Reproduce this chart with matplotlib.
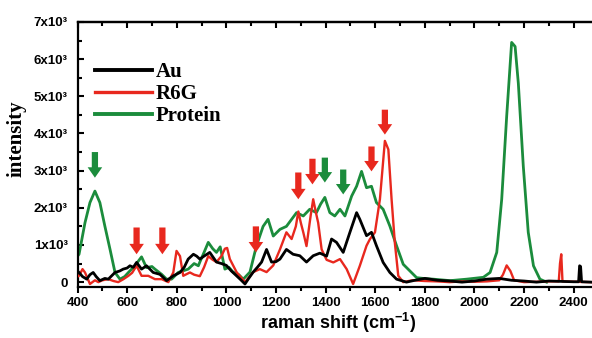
import matplotlib
matplotlib.use("Agg")
import matplotlib.pyplot as plt
from matplotlib.ticker import MultipleLocator, FixedLocator
from matplotlib.lines import Line2D

# ---------------- data ----------------
protein_x = [400, 406, 430, 450, 470, 490, 510, 531, 551, 571, 590, 605, 631, 658, 678, 700, 712, 739, 759, 779,
             806, 846, 870, 887, 893, 910, 927, 945, 960, 975, 994, 1010, 1027, 1050, 1068, 1095, 1121, 1148, 1168,
             1189, 1216, 1242, 1263, 1283, 1310, 1336, 1363, 1380, 1397, 1417, 1437, 1458, 1478, 1505, 1525, 1545,
             1565, 1585, 1605, 1632, 1659, 1686, 1713, 1740, 1767, 1794, 1834, 1902, 1969, 2036, 2063, 2090, 2110,
             2130, 2150, 2164, 2177, 2197, 2217, 2238, 2264, 2291]
protein_y = [700, 750, 1600, 2140, 2450, 2140, 1510, 880, 260, 80, 150, 260, 440, 680, 390, 420, 350, 210, 80, 80,
             260, 350, 500, 440, 540, 800, 1070, 900, 800, 950, 350, 400, 270, 200, 80, 270, 970, 1500, 1690,
             1240, 1420, 1500, 1690, 1870, 1780, 1960, 1870, 2100, 2280, 1870, 1780, 1960, 1780, 2315, 2580, 2980,
             2540, 2580, 2140, 1960, 1510, 980, 480, 300, 120, 100, 80, 40, 80, 130, 260, 800, 2230,
             4460, 6450, 6340, 5350, 3120, 1340, 440, 80, 0]

r6g_x = [400, 406, 420, 430, 450, 470, 484, 500, 524, 545, 564, 585, 605, 620, 638, 658, 685, 712, 739, 766, 786,
         799, 813, 826, 853, 870, 887, 893, 910, 927, 945, 960, 980, 994, 1003, 1014, 1041, 1075, 1108, 1135, 1162,
         1189, 1216, 1242, 1263, 1280, 1290, 1300, 1310, 1323, 1340, 1350, 1360, 1370, 1384, 1404, 1431, 1458,
         1485, 1511, 1538, 1565, 1579, 1599, 1619, 1639, 1653, 1666, 1679, 1693, 1713, 1750, 1800, 1850, 1900,
         1950, 2000, 2050, 2100, 2115, 2130, 2145, 2160, 2200, 2300, 2340, 2345, 2350, 2355, 2400, 2470]
r6g_y = [150, 170, 350, 260, -50, 50, 0, 50, 80, 30, 0, 80, 170, 250, 440, 170, 170, 80, 80, 0, 260,
         840, 700, 170, 260, 200, 170, 160, 400, 700, 600, 540, 700, 900, 920, 620, 270, 0, 270, 350, 270,
         450, 880, 1340, 1160, 1500, 1900, 1600, 1340, 970, 1800, 2230, 1900, 1600, 880, 600, 530, 620,
         350, -50, 440, 980, 1160, 1340, 2230, 3800, 3570, 2230, 1070, 170, 0, 50, 30, 20, 0,
         20, 10, 20, 50, 200, 450, 300, 50, 0, 20, 20, 500, 750, 20, 10, 0]

au_x = [400, 406, 420, 437, 450, 463, 475, 490, 510, 524, 551, 570, 584, 600, 611, 625, 638, 658, 678, 705, 732,
        759, 786, 813, 830, 846, 867, 880, 893, 910, 933, 960, 980, 1000, 1020, 1041, 1060, 1075, 1090, 1108,
        1125, 1142, 1162, 1182, 1200, 1216, 1242, 1269, 1296, 1323, 1350, 1377, 1404, 1424, 1444, 1471, 1498,
        1525, 1538, 1565, 1585, 1605, 1632, 1659, 1686, 1726, 1760, 1800, 1850, 1900, 1950, 2000, 2050, 2100,
        2150, 2200, 2250, 2300, 2350, 2400, 2420, 2424, 2428, 2432, 2470]
au_y = [300, 260, 150, 80, 200, 260, 150, 40, 100, 80, 260, 300, 350, 380, 440, 400, 530, 350, 440, 260, 210,
        40, 170, 260, 400, 620, 750, 700, 620, 700, 800, 540, 500, 450, 300, 170, 50, -50, 100, 270,
        400, 540, 880, 540, 550, 620, 880, 750, 710, 540, 710, 780, 700, 1160, 1070, 800, 1340,
        1870, 1690, 1250, 1340, 980, 530, 260, 80, 0, 50, 100, 50, 30, 0, 30, 80, 100,
        50, 30, 0, 30, 20, 10, 10, 440, 420, 10, 0]

# arrows: x position, top, tip (data units)
red_arrow_x = [638, 742, 1119, 1290, 1347, 1585, 1639]
red_arrow_top = [1470, 1470, 1500, 2950, 3320, 3650, 4640]
red_arrow_tip = [750, 750, 800, 2230, 2630, 2980, 3970]
green_arrow_x = [470, 1397, 1471]
green_arrow_top = [3500, 3350, 3030]
green_arrow_tip = [2810, 2680, 2360]

series_labels = ["Au", "R6G", "Protein"]
xticks = [400, 600, 800, 1000, 1200, 1400, 1600, 1800, 2000, 2200, 2400]
yticks = [0, 1000, 2000, 3000, 4000, 5000, 6000, 7000]
ytick_labels = ["0", "1x10\u00b3", "2x10\u00b3", "3x10\u00b3", "4x10\u00b3", "5x10\u00b3", "6x10\u00b3", "7x10\u00b3"]

RED = "#e8281e"
GREEN = "#1b8c3c"
BLACK = "#000000"

plt.rcParams["font.family"] = ["Liberation Sans", "DejaVu Sans"]
plt.rcParams["mathtext.fontset"] = "custom"
plt.rcParams["mathtext.rm"] = "Liberation Sans:bold"
plt.rcParams["mathtext.bf"] = "Liberation Sans:bold"
plt.rcParams["mathtext.default"] = "bf"

fig = plt.figure(figsize=(5.92, 3.38), dpi=100)
ax = fig.add_axes([0.131, 0.151, 0.869, 0.784])

lw = 2.0
ax.plot(protein_x, protein_y, color=GREEN, lw=lw, zorder=2)
ax.plot(r6g_x, r6g_y, color=RED, lw=lw * 0.85, zorder=3)
ax.plot(au_x, au_y, color=BLACK, lw=lw, zorder=4)

def draw_arrows(xs, tops, tips, color):
    for x, t, p in zip(xs, tops, tips):
        ax.annotate("", xy=(x, p), xytext=(x, t),
                    arrowprops=dict(arrowstyle="simple,head_length=0.75,head_width=1.05,tail_width=0.45",
                                    color=color, shrinkA=0, shrinkB=0, mutation_scale=10, lw=0),
                    zorder=5)

draw_arrows(red_arrow_x, red_arrow_top, red_arrow_tip, RED)
draw_arrows(green_arrow_x, green_arrow_top, green_arrow_tip, GREEN)

ax.set_xlim(400, 2474)
ax.set_ylim(-130, 7000)

ax.xaxis.set_major_locator(FixedLocator(xticks))
ax.xaxis.set_minor_locator(MultipleLocator(100))
ax.yaxis.set_major_locator(FixedLocator(yticks))
ax.yaxis.set_minor_locator(MultipleLocator(500))
ax.set_yticklabels(ytick_labels)
ax.set_xticklabels([str(v) for v in xticks])

for s in ["left", "bottom", "top"]:
    ax.spines[s].set_linewidth(1.6)
ax.spines["right"].set_visible(False)

ax.tick_params(axis="x", which="both", direction="out", bottom=True, top=False, width=1.5)
ax.tick_params(axis="x", which="major", length=4.5, pad=2.5)
ax.tick_params(axis="x", which="minor", length=3)
ax.tick_params(axis="y", which="both", direction="in", left=True, right=False, width=1.5)
ax.tick_params(axis="y", which="major", length=4.5, pad=7)
ax.tick_params(axis="y", which="minor", length=3)
for lab in ax.get_xticklabels() + ax.get_yticklabels():
    lab.set_fontweight("bold")
    lab.set_fontsize(9.5)

# top mirrored ticks (inward)
sec = ax.secondary_xaxis("top")
sec.xaxis.set_major_locator(FixedLocator(xticks))
sec.xaxis.set_minor_locator(MultipleLocator(100))
sec.tick_params(axis="x", which="both", direction="in", width=1.5, labeltop=False)
sec.tick_params(axis="x", which="major", length=4.5)
sec.tick_params(axis="x", which="minor", length=3)
sec.spines["top"].set_linewidth(1.6)

ax.set_xlabel(r"raman shift (cm$^{-1}$)", fontsize=13, fontweight="bold")
ax.xaxis.set_label_coords(0.506, -0.09)
ax.set_ylabel("intensity", fontsize=15, fontweight="bold", family=["Liberation Serif", "DejaVu Serif"])
ax.yaxis.set_label_coords(-0.1, 0.56)

handles = [Line2D([], [], color=BLACK, lw=2.8),
           Line2D([], [], color=RED, lw=2.4),
           Line2D([], [], color=GREEN, lw=2.8)]
ax.legend(handles, series_labels, loc="upper left", bbox_to_anchor=(0.034, 0.848), frameon=False,
          borderaxespad=0, borderpad=0, handlelength=2.75, handletextpad=0.15, labelspacing=0.1,
          prop={"family": ["Liberation Serif", "DejaVu Serif"], "weight": "bold", "size": 15})

fig.savefig("out.png", dpi=100)
